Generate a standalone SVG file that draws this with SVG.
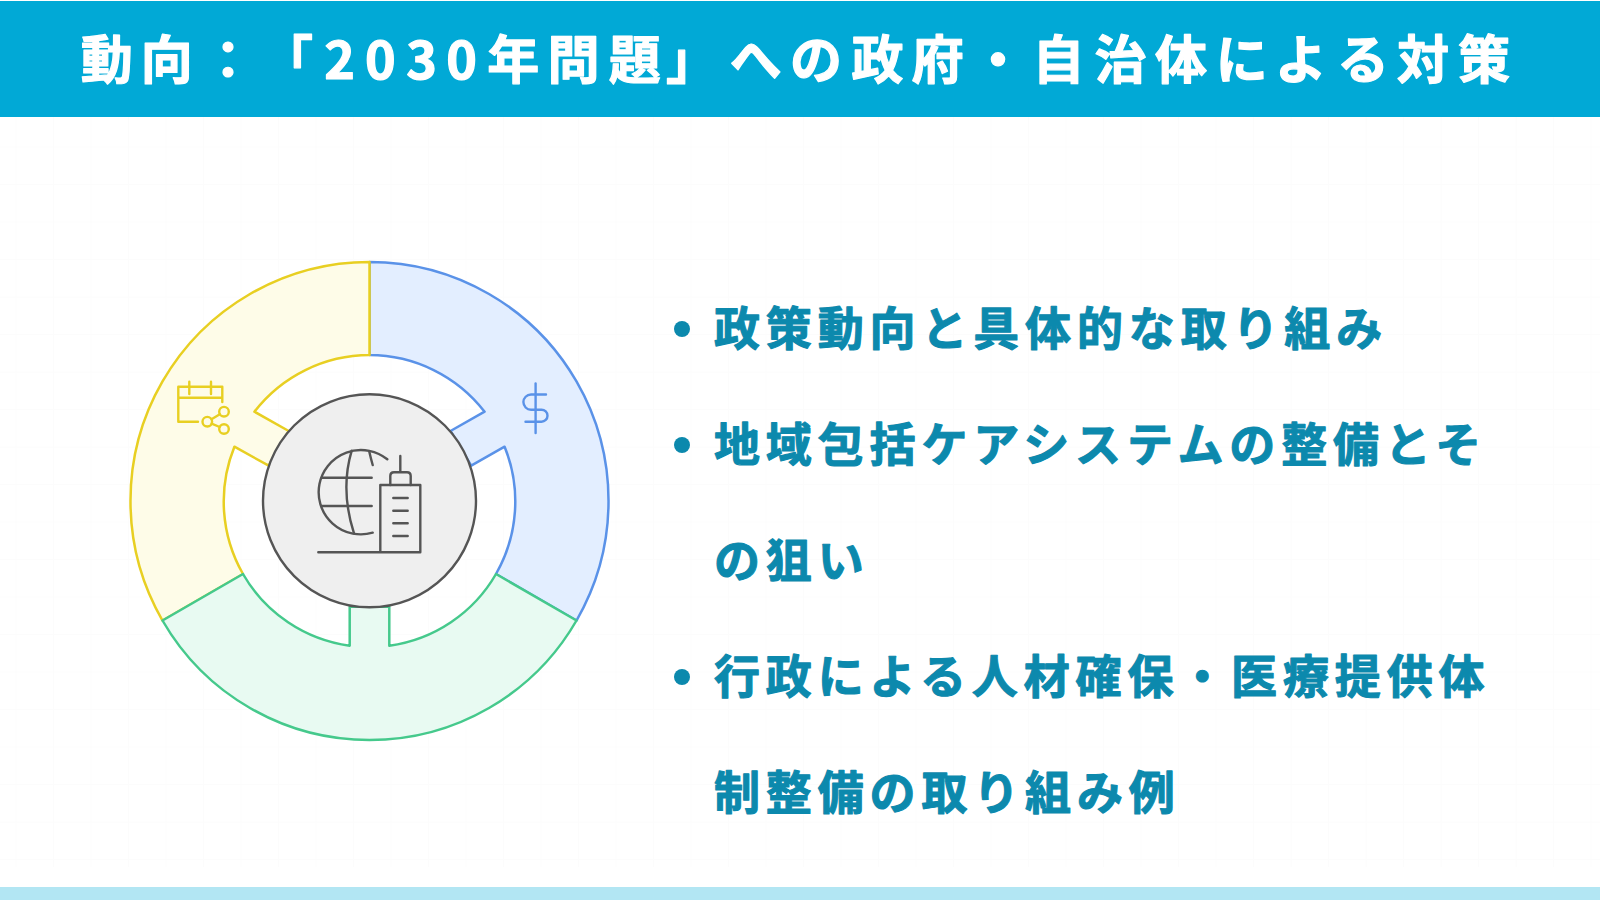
<svg xmlns="http://www.w3.org/2000/svg" width="1600" height="900" viewBox="0 0 1600 900">
<style>
.seg{stroke-width:2.5;stroke-linejoin:round}
.ico{fill:none;stroke-width:2.4;stroke-linecap:round;stroke-linejoin:round}
.blue{stroke:#5a92e8}.green{stroke:#45c98c}.yellow{stroke:#e8cf22}.gray{stroke:#555}
.title{font-family:"Noto Sans CJK JP","Noto Sans",sans-serif;font-weight:700;font-size:52px;fill:#fff;stroke:#fff;stroke-width:1.2;stroke-linejoin:round}
.item{font-family:"Noto Sans CJK JP","Noto Sans",sans-serif;font-weight:700;font-size:46px;letter-spacing:5.85px;fill:#0c89ad;stroke:#0c89ad;stroke-width:1.1;stroke-linejoin:round}
</style>
<defs>
<pattern id="grid" width="37.5" height="37.5" patternUnits="userSpaceOnUse" x="-21" y="-2.5">
<path d="M37.5 0V37.5M0 37.5H37.5" fill="none" stroke="#fcfcfc" stroke-width="2"/>
</pattern>
</defs>
<rect width="1600" height="900" fill="#fff"/>
<rect x="0" y="117" width="1600" height="750" fill="url(#grid)"/>
<g id="header">
<rect x="0" y="1" width="1600" height="116" fill="#01a9d6"/>
<text class="title" y="79" x="80.7 140.7 202 261 324.3 365 406.3 446.3 487.3 547.5 608.7 666 729.8 790 851.5 911.7 972 1032.5 1094.5 1155 1215.7 1275 1337 1397 1458">動向：「2030年問題」への政府・自治体による対策</text>
</g>
<rect id="footer" x="0" y="887" width="1600" height="13" fill="#b2e6f3"/>
<g id="segment-blue">
<path class="seg blue" fill="#e3eeff" d="M369.5 262A239 239 0 0 1 576.5 620.5L496 574A146 146 0 0 0 504.6 446.7L471.2 465.7L450.5 431L484.6 411.7A146 146 0 0 0 369.5 355Z"/>
<g class="ico blue">
<path d="M535.6 383.5V433"/>
<path d="M546 394.5H531A7.6 7.6 0 0 0 531 409.7H541.5A6 6 0 0 1 541.5 421.7H525.5"/>
</g>
</g>
<g id="segment-yellow">
<path class="seg yellow" fill="#fefce8" d="M162.5 620.5A239 239 0 0 1 369.5 262V355A146 146 0 0 0 254.4 411.7L288.7 431L268.7 465.7L234.4 446.7A146 146 0 0 0 243 574Z"/>
<g class="ico yellow">
<path d="M198 421.7H178.3V386.7H222.3V402M178.3 397.7H222.3M189.3 381.7V394M211 381.7V394"/>
<circle cx="224" cy="411.7" r="4.8"/><circle cx="207.3" cy="421.7" r="4.8"/><circle cx="224" cy="429" r="4.8"/>
<path d="M211.5 419.2L219.8 414.2M211.6 423.6L219.7 427"/>
</g>
</g>
<g id="segment-green">
<path class="seg green" fill="#e8faf2" d="M576.5 620.5A239 239 0 0 1 162.5 620.5L243 574A146 146 0 0 0 349.7 645.7V606.7H389.3V645.7A146 146 0 0 0 496 574Z"/>
</g>
<g id="center">
<circle cx="369.5" cy="500.8" r="106.5" fill="#efefef" stroke="#555" stroke-width="2.4"/>
<g class="ico gray">
<path d="M387.3 459.3A42.2 42.2 0 1 0 372.7 532.7"/>
<path d="M321.7 477.7H371.7M321.7 506H371.7"/>
<path d="M351.7 450.7Q340 490 354 533.3M369.3 451.7Q371 459 372.7 465"/>
<path d="M318.3 552.3H420.3V485H380.3V552.3"/>
<path d="M390.3 485V476Q390.3 472.3 394 472.3H407Q410.7 472.3 410.7 476V485M400.3 456V472.3"/>
<path d="M393.3 498H407.7M393.3 510.7H407.7M393.3 523.3H407.7M393.3 536H407.7"/>
</g>
</g>
<g id="bullets">
<circle cx="682" cy="329" r="8" fill="#0c89ad"/>
<text class="item" x="714" y="345">政策動向と具体的な取り組み</text>
<circle cx="682" cy="445" r="8" fill="#0c89ad"/>
<text class="item" x="714" y="461">地域包括ケアシステムの整備とそ</text>
<text class="item" x="714" y="577">の狙い</text>
<circle cx="682" cy="677" r="8" fill="#0c89ad"/>
<text class="item" x="714" y="693">行政による人材確保・医療提供体</text>
<text class="item" x="714" y="809">制整備の取り組み例</text>
</g>
</svg>
